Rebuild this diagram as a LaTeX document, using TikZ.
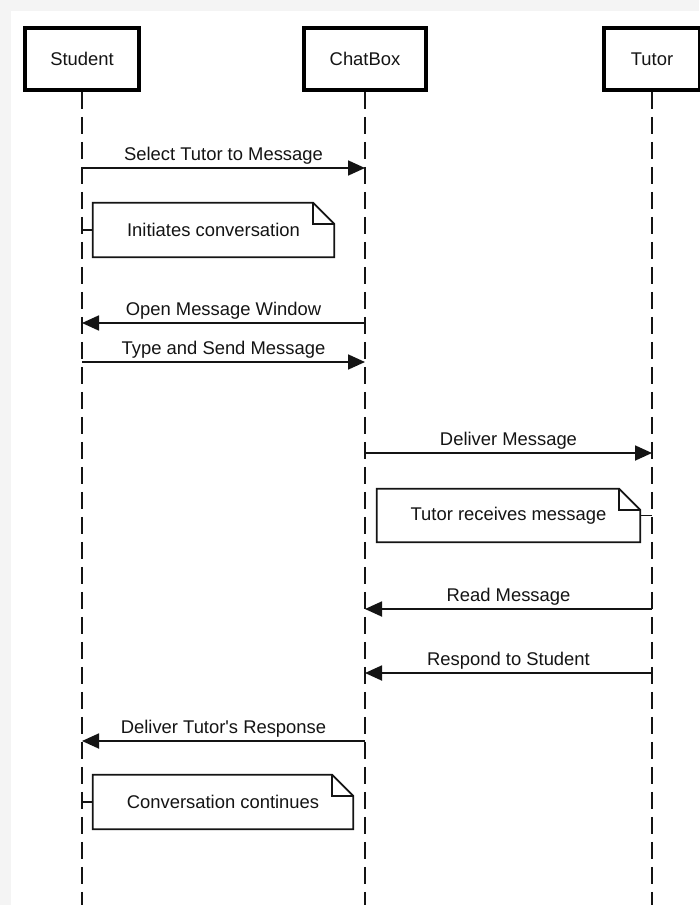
\documentclass[tikz,border=0pt]{standalone}
\usepackage{fontspec}
\setmainfont{Liberation Sans}
\usetikzlibrary{arrows.meta}
\definecolor{bgband}{HTML}{F4F4F4}
\definecolor{ink}{HTML}{141414}
\newcommand\drawnote[1]{%
  \draw[noteline] (#1.north west) -- ([xshift=-21pt]#1.north east) -- ([yshift=-21pt]#1.north east) -- (#1.south east) -- (#1.south west) -- cycle;
  \draw[noteline] ([xshift=-21pt]#1.north east) |- ([yshift=-21pt]#1.north east);}
\begin{document}
\begin{tikzpicture}[x=1pt,y=-1pt,
  font=\fontsize{18.4}{22}\selectfont,
  actor/.style={draw=black, line width=3.5pt, fill=white, minimum height=62pt, inner sep=0pt, text=ink},
  lifeline/.style={draw=ink, line width=2pt, dash pattern=on 17pt off 8pt},
  msg/.style={draw=ink, line width=1.8pt, -{Triangle[length=17pt,width=15pt]}},
  msglabel/.style={anchor=base, yshift=8pt, text=ink, inner sep=0pt},
  notebody/.style={inner sep=0pt, text=ink},
  noteline/.style={draw=ink, line width=1.8pt, line join=miter},
  tick/.style={draw=ink, line width=1.8pt}]
\useasboundingbox (0,0) rectangle (699,905);
\fill[bgband] (0,0) rectangle (699,905);
\fill[white] (11,11) rectangle (699,905);
% actors
\node[actor, minimum width=114pt] (st) at (82,59) {Student};
\node[actor, minimum width=122pt] (cb) at (365,59) {ChatBox};
\node[actor, minimum width=96pt] (tu) at (652,59) {Tutor};
\coordinate (bottom) at (0,905);
\draw[lifeline] (st.south) -- (st.south |- bottom);
\draw[lifeline] (cb.south) -- (cb.south |- bottom);
\draw[lifeline] (tu.south) -- (tu.south |- bottom);
% message rows
\coordinate (m1) at (0,168);
\coordinate (m3) at (0,323);
\coordinate (m4) at (0,362);
\coordinate (m5) at (0,453);
\coordinate (m7) at (0,609);
\coordinate (m8) at (0,673);
\coordinate (m9) at (0,741);
\draw[msg] (m1 -| st) -- node[msglabel]{Select Tutor to Message} (m1 -| cb);
\draw[msg] (m3 -| cb) -- node[msglabel]{Open Message Window} (m3 -| st);
\draw[msg] (m4 -| st) -- node[msglabel]{Type and Send Message} (m4 -| cb);
\draw[msg] (m5 -| cb) -- node[msglabel]{Deliver Message} (m5 -| tu);
\draw[msg] (m7 -| tu) -- node[msglabel]{Read Message} (m7 -| cb);
\draw[msg] (m8 -| tu) -- node[msglabel]{Respond to Student} (m8 -| cb);
\draw[msg] (m9 -| cb) -- node[msglabel]{Deliver Tutor\textquotesingle s Response} (m9 -| st);
% notes
\node[notebody, minimum width=241pt, minimum height=54pt] (n1) at (213.5,230) {Initiates conversation};
\drawnote{n1}
\draw[tick] (n1.west) -- (n1.west -| st);
\node[notebody, minimum width=263pt, minimum height=53pt] (n2) at (508.5,515.5) {Tutor receives message};
\drawnote{n2}
\draw[tick] (n2.east) -- (n2.east -| tu);
\node[notebody, minimum width=260pt, minimum height=54pt] (n3) at (223,802) {Conversation continues};
\drawnote{n3}
\draw[tick] (n3.west) -- (n3.west -| st);
\end{tikzpicture}
\end{document}
